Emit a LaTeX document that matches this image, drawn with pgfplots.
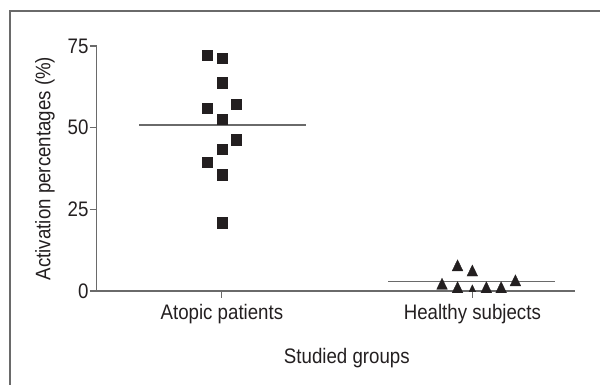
\documentclass[border=0pt]{standalone}
\usepackage{fontspec}
\setmainfont{Liberation Sans}[FakeStretch=0.89]
\usepackage{pgfplots}
\pgfplotsset{compat=1.18}
\definecolor{axgray}{HTML}{6A6A6A}
\definecolor{mk}{HTML}{231F20}
\begin{document}
\begin{tikzpicture}[x=1pt,y=1pt]
\useasboundingbox (0,0) rectangle (600,385);
\draw[axgray, line width=2pt] (10,-2) -- (10,374) -- (602,374);
\begin{axis}[
  at={(96.7pt,94pt)}, anchor=south west,
  scale only axis, width=478.3pt, height=245pt,
  xmin=0.5, xmax=2.41, ymin=0, ymax=75,
  axis lines*=left,
  axis line style={axgray, line width=1.4pt},
  xtick={1,2}, xticklabels={Atopic patients, Healthy subjects},
  ytick={0,25,50,75},
  tick align=outside, major tick length=7pt,
  tick style={axgray, line width=1.1pt},
  /pgf/number format/assume math mode=true,
  font=\fontsize{21}{23}\selectfont\color{mk},
  yticklabel style={inner sep=1pt},
  xticklabel style={inner sep=2pt, yshift=-4pt},
  xlabel={Studied groups},
  ylabel={Activation percentages (\%)},
  xlabel style={at={(axis description cs:0.523,-0.273)}, anchor=center},
  ylabel style={at={(axis description cs:-0.108,0.5)}, anchor=center},
  clip=false,
]
\addplot[axgray, line width=1.4pt] coordinates {(0.67,50.8) (1.335,50.8)};
\addplot[axgray, line width=1.4pt] coordinates {(1.665,2.85) (2.33,2.85)};
\addplot[only marks, mark=square*, mark size=5.2pt,
  mark options={draw=mk, fill=mk, line width=0.3pt}]
  coordinates {(0.94,72.2) (1,71.2) (1,63.8) (1.058,57.2) (0.94,55.9) (1,52.6)
               (1.058,46.3) (1,43.4) (0.94,39.5) (1,35.6) (1,20.9)};
\addplot[only marks, mark=triangle*, mark size=6.2pt,
  mark options={draw=mk, fill=mk, line width=0.3pt, yscale=1.2}]
  coordinates {(1.941,7.3) (2,5.7) (1.879,1.65) (2.172,2.7)
               (1.941,0.6) (2.056,0.6) (2.115,0.6)};
\addplot[only marks, mark=triangle*, mark size=3.8pt,
  mark options={draw=mk, fill=mk, line width=0.3pt, yscale=1.2}]
  coordinates {(2,0.5)};
\end{axis}
\end{tikzpicture}
\end{document}
